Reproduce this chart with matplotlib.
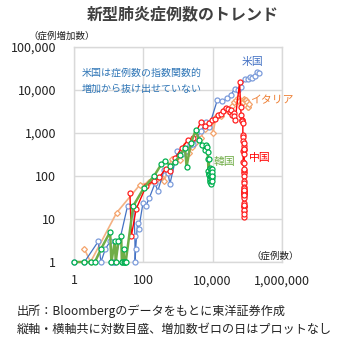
import matplotlib
matplotlib.use("Agg")
import matplotlib.pyplot as plt
from matplotlib.ticker import FixedLocator, NullLocator

plt.rcParams['font.family'] = ['Noto Sans CJK JP', 'DejaVu Sans']

# ---- data: (cumulative cases, daily new cases), zero-increase days omitted ----
us_cum = [1, 2, 5, 6, 8, 11, 12, 13, 14, 15, 35, 53, 57, 58, 60, 68, 74, 98, 118, 149,
          217, 262, 402, 518, 583, 959, 1281, 1663, 2179, 2726, 3499, 4632, 6421, 7786,
          13680, 19101, 25493, 33276, 43847, 53740, 65778, 83836, 101657, 121478,
          140886, 161807, 188172, 213372]
us_new = [1, 1, 3, 1, 2, 3, 1, 1, 1, 1, 20, 18, 4, 1, 2, 8, 6, 24, 20, 31,
          68, 45, 140, 116, 65, 376, 322, 382, 516, 547, 773, 1133, 1789, 1365,
          5894, 5421, 6392, 7783, 10571, 9893, 12038, 18058, 17821, 19821,
          19408, 20921, 26365, 25200]

it_cum = [2, 3, 17, 79, 150, 229, 322, 400, 650, 888, 1128, 1694, 2036, 2502, 3089,
          3858, 4636, 5883, 7375, 9172, 10149, 12462, 15113, 17660, 21157, 24747,
          27980, 31506, 35713, 41035, 47021, 53578, 59138, 63927, 69176, 74386,
          80589, 86498, 92472, 97689, 101739, 105792, 110574]
it_new = [2, 1, 14, 62, 71, 79, 93, 78, 250, 238, 240, 566, 342, 466, 587,
          769, 778, 1247, 1492, 1797, 977, 2313, 2651, 2547, 3497, 3590,
          3233, 3526, 4207, 5322, 5986, 6557, 5560, 4789, 5249, 5210,
          6203, 5909, 5974, 5217, 4050, 4053, 4782]

cn_cum = [41, 45, 62, 121, 198, 291, 440, 571, 830, 1287, 1975, 2744, 4515, 5974,
          7711, 9692, 11791, 14380, 17205, 20438, 24324, 28018, 31161, 34546, 37198,
          40171, 42638, 44653, 59804, 63851, 66492, 68500, 70548, 72436, 74185,
          74576, 75465, 76288, 76936, 77150, 77658, 78064, 78497, 78824, 79251,
          79824, 80026, 80151, 80270, 80409, 80552, 80651, 80695, 80735, 80754,
          80778, 80793, 80813, 80824, 80844, 80860, 80881, 80894, 80928, 80967,
          81008, 81054, 81093, 81171, 81218, 81285, 81340, 81394, 81439, 81470,
          81518, 81554]
cn_new = [41, 4, 17, 59, 77, 93, 149, 131, 259, 457, 688, 769, 1771, 1459,
          1737, 1981, 2099, 2589, 2825, 3233, 3886, 3694, 3143, 3385, 2652,
          2973, 2467, 2015, 15151, 4047, 2641, 2008, 2048, 1888, 1749,
          391, 889, 823, 648, 214, 508, 406, 433, 327, 427,
          573, 202, 125, 119, 139, 143, 99, 44, 40, 19,
          24, 15, 20, 11, 20, 16, 21, 13, 34, 39,
          41, 46, 39, 78, 47, 67, 55, 54, 45, 31,
          48, 36]

kr_cum = [1, 2, 3, 4, 6, 11, 12, 15, 16, 19, 23, 24, 25, 27, 28, 29, 30, 31, 51,
          104, 204, 330, 433, 602, 833, 1146, 1595, 1766, 2337, 3240, 4040, 5000,
          5900, 6284, 6767, 7134, 7382, 7513, 7755, 7869, 7979, 8086, 8162,
          8236, 8320, 8413, 8565, 8652, 8799, 8897, 8961, 9037, 9137, 9241, 9332,
          9478, 9583, 9661, 9786, 9887]
kr_new = [1, 1, 1, 1, 2, 5, 1, 3, 1, 3, 4, 1, 1, 2, 1, 1, 1, 1, 20,
          53, 100, 187, 229, 169, 215, 313, 449, 165, 571, 1170, 690, 530,
          400, 518, 483, 367, 248, 131, 242, 114, 110, 107, 76,
          74, 84, 93, 152, 87, 147, 98, 64, 76, 100, 104, 91,
          146, 105, 78, 125, 101]

x_ticks = [1, 100, 10000, 1000000]
x_labels = ["1", "100", "10,000", "1,000,000"]
y_ticks = [1, 10, 100, 1000, 10000, 100000]
y_labels = ["1", "10", "100", "1,000", "10,000", "100,000"]

title = "新型肺炎症例数のトレンド"
ylab = "（症例増加数）"
xlab = "（症例数）"
note = "米国は症例数の指数関数的\n増加から抜け出せていない"
foot1 = "出所：Bloombergのデータをもとに東洋証券作成"
foot2 = "縦軸・横軸共に対数目盛、増加数ゼロの日はプロットなし"

W = H = 340
fig = plt.figure(figsize=(3.4, 3.4), dpi=100)
ax = fig.add_axes([74 / W, 1 - 262 / H, (282 - 74) / W, (262 - 47) / H])
ax.set_xscale('log')
ax.set_yscale('log')
ax.set_xlim(1, 1e6)
ax.set_ylim(1, 1e5)

ax.xaxis.set_major_locator(FixedLocator(x_ticks))
ax.yaxis.set_major_locator(FixedLocator(y_ticks))
ax.xaxis.set_minor_locator(NullLocator())
ax.yaxis.set_minor_locator(NullLocator())
ax.set_xticklabels(x_labels, fontsize=9, color='#222222')
ax.set_yticklabels(y_labels, fontsize=9, color='#222222')
ax.tick_params(length=0, pad=9)
ax.tick_params(axis='y', pad=13)
ax.grid(True, color='#D9D9D9', lw=1.0)
ax.set_axisbelow(True)
for s in ax.spines.values():
    s.set_color('#D9D9D9')
    s.set_linewidth(1.0)

common = dict(mfc='white', mew=0.9, clip_on=False)
ax.plot(it_cum, it_new, color='#F4B183', lw=1.2, marker='D', ms=3.0,
        mec='#F4A36B', zorder=3, **common)
ax.plot(us_cum, us_new, color='#4472C4', lw=0.9, marker='o', ms=3.6,
        mec='#7C9CDB', zorder=4, **common)
ax.plot(cn_cum, cn_new, color='#FF0000', lw=1.0, marker='o', ms=3.6,
        mec='#FF2020', zorder=5, **common)
ax.plot(kr_cum, kr_new, color='#70AD47', lw=1.8, marker='o', ms=3.6,
        mec='#00B050', zorder=6, **common)

def px(xp, yp):
    return xp / W, 1 - yp / H

fig.text(*px(183, 14), title, ha='center', va='center', fontsize=11.5,
         fontweight='bold', color='#404040')
fig.text(*px(28, 36), ylab, ha='left', va='center', fontsize=6.8, color='#222222')
fig.text(*px(275, 256), xlab, ha='center', va='center', fontsize=6.8, color='#222222')
fig.text(*px(82, 81), note, ha='left', va='center', fontsize=7.2, color='#2E75B6',
         linespacing=1.75)
fig.text(*px(253, 62), "米国", ha='center', va='center', fontsize=7.8, color='#4472C4')
fig.text(*px(272, 100), "イタリア", ha='center', va='center', fontsize=7.8, color='#ED7D31')
fig.text(*px(260, 158), "中国", ha='center', va='center', fontsize=7.8, color='#FF0000')
fig.text(*px(224, 162), "韓国", ha='center', va='center', fontsize=7.8, color='#70AD47')
fig.text(*px(17, 311), foot1, ha='left', va='center', fontsize=8.7, color='#222222')
fig.text(*px(17, 329), foot2, ha='left', va='center', fontsize=8.7, color='#222222')

fig.savefig('out.png', dpi=100)
